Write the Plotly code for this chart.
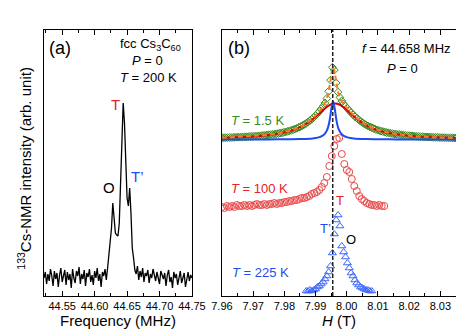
import numpy as np
import plotly.graph_objects as go

# ---------- panel (a): 133Cs-NMR spectrum, T = 200 K ----------
freq_start, freq_step = 44.522, 0.002
int_200K = [
    18, 24, 12, 22, 15, 27, 20, 10, 25, 17, 23, 9, 21, 28, 14, 19, 26, 11, 24, 16,
    22, 8, 27, 18, 13, 25, 20, 29, 12, 22, 17, 26, 10, 23, 19, 27, 14, 21, 11, 25,
    18, 28, 15, 22, 9, 24, 20, 27, 16,
    28, 40, 55, 68, 93, 78, 63, 61, 60, 73, 118, 158, 193, 173, 128, 98, 90, 108, 83, 48, 38, 26,
    22, 30, 16, 25, 19, 28, 14, 23, 20, 26, 13, 22, 18, 27, 21, 15, 24, 19, 12, 25,
    20, 17, 23, 10, 21, 26, 14, 19, 8, 24, 18, 22, 11, 20, 25, 13, 17, 23, 9, 19,
    24, 15, 21, 18,
]
freq = np.round(freq_start + freq_step * np.arange(len(int_200K)), 4)

# ---------- panel (b): field-swept spectra ----------
# T = 1.5 K data (diamonds) and total fit
h_15K_start, h_15K_step = 7.960, 0.0006
int_15K = [
    158.2, 158.3, 158.3, 158.4, 158.5, 158.5, 158.6, 158.7, 158.8, 158.8,
    158.9, 159.0, 159.1, 159.2, 159.3, 159.5, 159.6, 159.7, 159.9, 160.0,
    160.2, 160.3, 160.5, 160.7, 160.9, 161.1, 161.4, 161.6, 161.9, 162.2,
    162.5, 162.9, 163.2, 163.7, 164.1, 164.6, 165.1, 165.7, 166.3, 167.0,
    167.7, 168.6, 169.4, 170.4, 171.5, 172.7, 174.0, 175.4, 176.8, 178.6,
    180.4, 182.4, 184.6, 187.0, 189.8, 193.1, 197.5, 204.7, 215.9, 228.7,
    225.9, 213.1, 203.8, 198.6, 195.1, 192.1, 189.7, 187.5, 185.3, 183.3,
    181.3, 179.5, 177.9, 176.3, 174.8, 173.4, 172.2, 171.1, 170.0, 169.1,
    168.3, 167.5, 166.7, 166.1, 165.5, 164.9, 164.4, 163.9, 163.5, 163.1,
    162.7, 162.4, 162.1, 161.8, 161.5, 161.3, 161.1, 160.8, 160.6, 160.4,
    160.3, 160.1, 160.0, 159.8, 159.7, 159.5, 159.4, 159.3, 159.2, 159.1,
    159.0, 158.9, 158.8, 158.7, 158.6, 158.6, 158.5, 158.4, 158.4, 158.3,
    158.2, 158.2, 158.1, 158.1, 158.0, 158.0,
]
h_15K = np.round(h_15K_start + h_15K_step * np.arange(len(int_15K)), 4)

# broad component (red line)
h_broad = [7.960, 7.965, 7.970, 7.975, 7.980, 7.984, 7.987, 7.990, 7.992, 7.994, 7.9955,
           7.997, 7.999, 8.001, 8.003, 8.006, 8.009, 8.013, 8.018, 8.024, 8.030, 8.035]
int_broad = [158.2, 158.7, 159.6, 161.0, 163.6, 167.4, 172.1, 179.0, 184.7, 190.0, 192.2,
             192.2, 188.7, 183.1, 177.6, 171.0, 166.7, 163.2, 160.8, 159.3, 158.4, 158.0]

# narrow component (blue line)
h_narrow = [7.960, 7.975, 7.985, 7.989, 7.991, 7.992, 7.993, 7.9938, 7.9945, 7.9951, 7.9956,
            7.9961, 7.9967, 7.9974, 7.9982, 7.9992, 8.0002, 8.0022, 8.0062, 8.0162, 8.035]
int_narrow = [156.5, 156.6, 156.9, 157.5, 158.6, 159.8, 162.3, 166.8, 175.5, 188.0, 194.5,
              188.0, 175.5, 166.8, 162.3, 159.8, 158.6, 157.5, 156.9, 156.6, 156.5]

# T = 100 K (circles)
h_100K_start, h_100K_step = 7.960, 0.0008
int_100K = [
    89, 88, 90, 89, 90, 89, 91, 90, 90, 91, 90, 91, 90, 91, 92, 91, 91, 92, 91, 92,
    92, 93, 92, 93, 93, 94, 94, 95, 95, 96, 96, 97, 98, 98, 99, 100, 102, 103, 104, 106,
    109, 113, 119, 130, 140, 150, 157, 158, 142, 132, 126, 124, 117, 110, 105, 100, 97, 95, 93, 92,
    91, 91, 90, 91, 90, 90,
]
h_100K = np.round(h_100K_start + h_100K_step * np.arange(len(int_100K)), 4)

# T = 225 K (triangles)
h_225K_start, h_225K_step = 7.987, 0.0006
int_225K = [
    5, 5, 6, 5, 6, 7, 9, 10, 12, 14, 17, 20, 24, 30, 43, 62, 76, 81, 70, 50,
    44, 39, 33, 28, 23, 20, 16, 13, 11, 9, 8, 7, 6, 6, 5, 5,
]
h_225K = np.round(h_225K_start + h_225K_step * np.arange(len(int_225K)), 4)

h_line = 7.9955

FONT = "Liberation Sans, Arial, sans-serif"
GREEN = "#3a8a22"
RED = "#e8202a"
BLUE = "#1f4cf2"

fig = go.Figure()

fig.add_trace(go.Scatter(x=freq, y=int_200K, mode="lines",
                         line=dict(color="black", width=1.3), xaxis="x", yaxis="y"))

fig.add_trace(go.Scatter(x=h_100K, y=int_100K, mode="markers",
                         marker=dict(symbol="circle-open", size=7, color="#e84848", line=dict(width=1)),
                         xaxis="x2", yaxis="y2"))
fig.add_trace(go.Scatter(x=h_225K, y=int_225K, mode="markers",
                         marker=dict(symbol="triangle-up-open", size=7, color="#3a66ff", line=dict(width=1)),
                         xaxis="x2", yaxis="y2"))
fig.add_trace(go.Scatter(x=h_15K, y=int_15K, mode="markers",
                         marker=dict(symbol="diamond-open", size=6, color=GREEN, line=dict(width=1)),
                         xaxis="x2", yaxis="y2"))
fig.add_trace(go.Scatter(x=h_broad, y=int_broad, mode="lines", line_shape="spline",
                         line=dict(color="#d00000", width=2), xaxis="x2", yaxis="y2"))
fig.add_trace(go.Scatter(x=h_narrow, y=int_narrow, mode="lines", line_shape="spline",
                         line=dict(color=BLUE, width=2), xaxis="x2", yaxis="y2"))
fig.add_trace(go.Scatter(x=h_15K, y=int_15K, mode="lines",
                         line=dict(color="#ff7a1a", width=2, dash="5px,3px"), xaxis="x2", yaxis="y2"))

fig.add_shape(type="line", xref="x2", yref="y2 domain", x0=h_line, x1=h_line, y0=0, y1=1,
              line=dict(color="#222222", width=1.5, dash="4px,2px"))

# pixel -> paper helpers for labels
L, R, T, B = 36, 462, 22, 288
def px(x):
    return (x - L) / (R - L)
def py(y):
    return (B - y) / (B - T)

labels = [
    ("(a)", 53, 40, 18, "black"),
    ("fcc Cs<sub>3</sub>C<sub>60</sub>", 146, 36, 13, "black"),
    ("<i>P</i> = 0", 143, 53, 13, "black"),
    ("<i>T</i> = 200 K", 144, 69, 13, "black"),
    ("T", 110, 97, 15, RED),
    ("O", 103, 179, 15, "black"),
    ("T’", 133, 169, 15, BLUE),
    ("(b)", 238, 40, 18, "black"),
    ("<i>f</i> = 44.658 MHz", 411, 41, 13, "black"),
    ("<i>P</i> = 0", 407, 60, 13, "black"),
    ("<i>T</i> = 1.5 K", 257, 113, 13, GREEN),
    ("<i>T</i> = 100 K", 259, 180, 13, RED),
    ("<i>T</i> = 225 K", 260, 264, 13, BLUE),
    ("T", 342, 193, 13, RED),
    ("T’", 327, 220, 13, BLUE),
    ("O", 353, 231, 13, "black"),
]
for txt, x, y, s, c in labels:
    fig.add_annotation(text=txt, x=px(x), y=py(y), xref="paper", yref="paper",
                       showarrow=False, xanchor="center", yanchor="middle",
                       font=dict(size=s, color=c, family=FONT))

fig.add_annotation(text="<sup>133</sup>Cs-NMR intensity (arb. unit)", x=px(15), y=py(160),
                   xref="paper", yref="paper", showarrow=False, textangle=-90,
                   xanchor="center", yanchor="middle", font=dict(size=15, color="black", family=FONT))

axis_common = dict(showline=True, linecolor="black", linewidth=1.2, mirror="allticks",
                   ticks="inside", ticklen=5, tickwidth=1, tickcolor="black",
                   showgrid=False, zeroline=False, tickfont=dict(size=11, family=FONT, color="black"),
                   title_font=dict(size=15, family=FONT, color="black"))

fig.update_layout(
    width=464, height=333,
    margin=dict(l=L, r=464 - R, t=T, b=333 - B),
    paper_bgcolor="white", plot_bgcolor="white",
    showlegend=False,
    font=dict(family=FONT, color="black"),
    xaxis=dict(domain=[0, px(189)], range=[44.522, 44.75], dtick=0.05, tick0=44.55,
               tickformat=".2f", minor=dict(ticks="inside", ticklen=3, dtick=0.025, tick0=44.55),
               title=dict(text="Frequency (MHz)", standoff=4), **axis_common),
    yaxis=dict(domain=[0, 1], range=[0, 266], showline=True, linecolor="black", linewidth=1.2,
               mirror=True, ticks="", showticklabels=False, showgrid=False, zeroline=False),
    xaxis2=dict(domain=[px(220), 1], range=[7.96, 8.035], dtick=0.01, tick0=7.96,
                tickformat=".2f", anchor="y2",
                minor=dict(ticks="inside", ticklen=3, dtick=0.005, tick0=7.96),
                title=dict(text="<i>H</i> (T)", standoff=4), **axis_common),
    yaxis2=dict(domain=[0, 1], range=[0, 266], anchor="x2", showline=True, linecolor="black",
                linewidth=1.2, mirror=True, ticks="", showticklabels=False, showgrid=False,
                zeroline=False),
)

fig.write_html("out.html")
